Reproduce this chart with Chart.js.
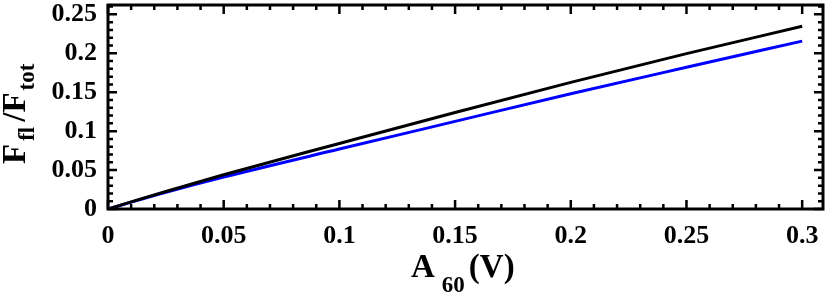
<!DOCTYPE html>
<html>
<head>
<meta charset="utf-8">
<script src="https://cdn.jsdelivr.net/npm/chart.js@4/dist/chart.umd.min.js"></script>
<style>
  html, body { margin: 0; padding: 0; background: #fff; }
  #wrap { width: 830px; height: 295px; position: relative; }
</style>
</head>
<body>
<div id="wrap"><canvas id="c" width="830" height="295"></canvas></div>
<script>
// ---- data ----
const xValues      = [0, 0.01, 0.025, 0.05, 0.1, 0.15, 0.2, 0.25, 0.3];
const blackSeries  = [0, 0.0092, 0.0225, 0.0440, 0.0842, 0.1240, 0.1626, 0.1995, 0.2347];
const blueSeries   = [0, 0.0088, 0.0215, 0.0410, 0.0770, 0.1125, 0.1480, 0.1820, 0.2156];
const xTickValues  = [0, 0.05, 0.1, 0.15, 0.2, 0.25, 0.3];
const xTickLabels  = ['0', '0.05', '0.1', '0.15', '0.2', '0.25', '0.3'];
const yTickValues  = [0, 0.05, 0.1, 0.15, 0.2, 0.25];
const yTickLabels  = ['0', '0.05', '0.1', '0.15', '0.2', '0.25'];
const xMinorStep = 0.01, yMinorStep = 0.01;
const xMin = 0, xMax = 0.309, yMin = 0, yMax = 0.262;

const SERIF = "'Liberation Serif', 'Times New Roman', serif";

function pts(ys) { return xValues.map((x, i) => ({ x: x, y: ys[i] })); }

const frameTicks = {
  id: 'frameTicks',
  afterDatasetsDraw(chart) {
    const { ctx, chartArea: a, scales: { x, y } } = chart;
    ctx.save();
    ctx.strokeStyle = '#000';
    ctx.lineWidth = 2.5;
    ctx.lineCap = 'butt';
    const majLen = 9, minLen = 5;
    const isMajor = (v, list) => list.some(t => Math.abs(t - v) < 1e-9);
    ctx.beginPath();
    for (let i = 0; xMin + i * xMinorStep <= xMax + 1e-9; i++) {
      const v = +(xMin + i * xMinorStep).toFixed(4);
      const p = x.getPixelForValue(v);
      const L = isMajor(v, xTickValues) ? majLen : minLen;
      ctx.moveTo(p, a.bottom); ctx.lineTo(p, a.bottom - L);
      ctx.moveTo(p, a.top); ctx.lineTo(p, a.top + L);
    }
    for (let i = 0; yMin + i * yMinorStep <= yMax + 1e-9; i++) {
      const v = +(yMin + i * yMinorStep).toFixed(4);
      const p = y.getPixelForValue(v);
      const L = isMajor(v, yTickValues) ? majLen : minLen;
      ctx.moveTo(a.left, p); ctx.lineTo(a.left + L, p);
      ctx.moveTo(a.right, p); ctx.lineTo(a.right - L, p);
    }
    ctx.stroke();
    ctx.lineWidth = 3;
    ctx.strokeRect(a.left, a.top, a.right - a.left, a.bottom - a.top);
    ctx.restore();
  },
  afterDraw(chart) {
    const ctx = chart.ctx;
    ctx.save();
    ctx.fillStyle = '#000';
    ctx.textBaseline = 'alphabetic';
    ctx.textAlign = 'left';
    const big = 'bold 33px ' + SERIF, small = 'bold 23px ' + SERIF;
    // x-axis title: A_60(V)
    let cx = 411, by = 277;
    ctx.font = big; ctx.fillText('A', cx, by); cx += ctx.measureText('A').width + 7;
    ctx.font = small; ctx.fillText('60', cx, by + 15); cx += ctx.measureText('60').width + 4;
    ctx.font = big; ctx.fillText('(V)', cx, by);
    // y-axis title: F_fl /F_tot (rotated)
    ctx.translate(25, 164);
    ctx.rotate(-Math.PI / 2);
    let cy = 0;
    ctx.font = big; ctx.fillText('F', cy, 0); cy += ctx.measureText('F').width + 3;
    ctx.font = small; ctx.fillText('fl', cy, 9); cy += ctx.measureText('fl').width + 5;
    ctx.font = big; ctx.fillText('/F', cy, 0); cy += ctx.measureText('/F').width + 2;
    ctx.font = small; ctx.fillText('tot', cy, 9);
    ctx.restore();
  }
};

new Chart(document.getElementById('c'), {
  type: 'line',
  data: {
    datasets: [
      { label: 'black', data: pts(blackSeries), borderColor: '#000000', borderWidth: 3,
        pointRadius: 0, cubicInterpolationMode: 'monotone', fill: false },
      { label: 'blue', data: pts(blueSeries), borderColor: '#0000ff', borderWidth: 3,
        pointRadius: 0, cubicInterpolationMode: 'monotone', fill: false }
    ]
  },
  options: {
    responsive: false,
    animation: false,
    events: [],
    layout: { padding: { top: 5, right: 7, bottom: 0, left: 0 } },
    plugins: { legend: { display: false }, tooltip: { enabled: false }, title: { display: false } },
    scales: {
      x: {
        type: 'linear', min: xMin, max: xMax,
        grid: { display: false, drawTicks: false },
        border: { display: false },
        afterBuildTicks: s => { s.ticks = xTickValues.map(v => ({ value: v })); },
        afterFit: s => { s.height = 86; s.paddingLeft = 0; s.paddingRight = 0; },
        ticks: {
          padding: 12, color: '#000', maxRotation: 0, autoSkip: false,
          font: { family: SERIF, size: 26, weight: 'bold' },
          callback: (v) => { const i = xTickValues.findIndex(t => Math.abs(t - v) < 1e-9); return i >= 0 ? xTickLabels[i] : ''; }
        }
      },
      y: {
        type: 'linear', min: yMin, max: yMax,
        grid: { display: false, drawTicks: false },
        border: { display: false },
        afterBuildTicks: s => { s.ticks = yTickValues.map(v => ({ value: v })); },
        afterFit: s => { s.width = 108; s.paddingTop = 0; s.paddingBottom = 0; },
        ticks: {
          padding: 11, color: '#000', autoSkip: false,
          font: { family: SERIF, size: 26, weight: 'bold' },
          callback: (v) => { const i = yTickValues.findIndex(t => Math.abs(t - v) < 1e-9); return i >= 0 ? yTickLabels[i] : ''; }
        }
      }
    }
  },
  plugins: [frameTicks]
});
</script>
</body>
</html>
